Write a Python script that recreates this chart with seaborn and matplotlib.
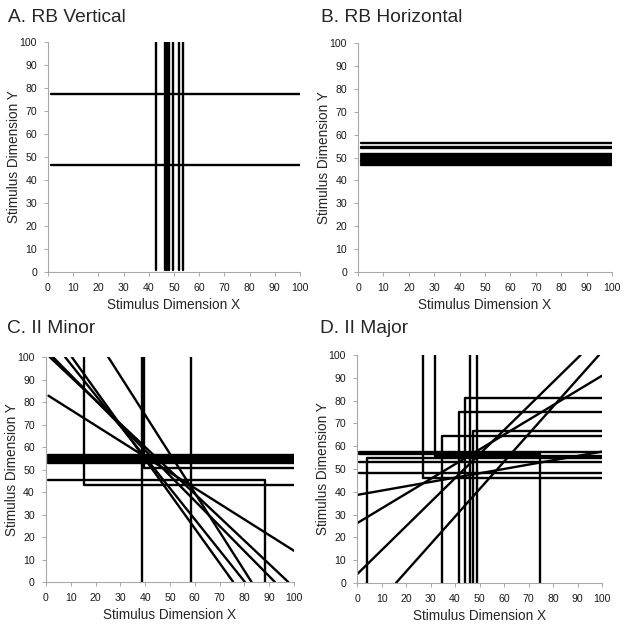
import matplotlib
matplotlib.use("Agg")
import matplotlib.pyplot as plt
import seaborn as sns
import pandas as pd

# Decision bounds, one polyline per bound: x points and y points
# A. RB Vertical
a_bounds_x = [[43.0, 43.0], [46.6, 46.6], [47.4, 47.4], [48.1, 48.1],
              [49.8, 49.8], [51.8, 51.8], [53.4, 53.4],
              [1, 100], [1, 100]]
a_bounds_y = [[1, 100], [1, 100], [1, 100], [1, 100],
              [1, 100], [1, 100], [1, 100],
              [77.5, 77.5], [46.5, 46.5]]

# B. RB Horizontal
b_levels = [56.3, 54.7, 54.1, 51.5, 50.7, 49.9, 49.1, 48.3, 47.5, 46.7]
b_bounds_x = [[1, 100] for _ in b_levels]
b_bounds_y = [[v, v] for v in b_levels]

# C. II Minor
c_bounds_x = [[1, 100], [1, 100], [1, 100], [1, 100], [1, 100],
              [58.3, 58.3], [38.6, 38.6],
              [15.3, 15.3, 100], [39.6, 39.6, 100], [1, 88.3, 88.3],
              [1, 100], [1.5, 97.7], [2.8, 92.3], [7.7, 80.2],
              [10.4, 75.5], [25.1, 82.9]]
c_bounds_y = [[56.4, 56.4], [55.5, 55.5], [54.7, 54.7], [53.9, 53.9], [52.7, 52.7],
              [0, 100], [0, 100],
              [100, 43.3, 43.3], [100, 50.5, 50.5], [45.4, 45.4, 0],
              [82.8, 13.9], [100, 0], [100, 0], [100, 0],
              [100, 0], [100, 0]]

# D. II Major
d_bounds_x = [[1, 100], [1, 100], [1, 100],
              [46.1, 46.1], [49.1, 49.1],
              [27.1, 27.1, 100], [31.7, 31.7, 100], [4.0, 4.0, 100],
              [34.6, 34.6, 100], [41.6, 41.6, 100], [44.1, 44.1, 100],
              [47.2, 47.2, 100], [1, 74.5, 74.5],
              [0, 100], [0, 100], [0, 91.3], [15.9, 98.8]]
d_bounds_y = [[57.3, 57.3], [52.9, 52.9], [48.4, 48.4],
              [0, 100], [0, 100],
              [100, 45.9, 45.9], [100, 55.8, 55.8], [0, 54.7, 54.7],
              [0, 64.5, 64.5], [0, 75.1, 75.1], [0, 81.0, 81.0],
              [0, 66.7, 66.7], [56.5, 56.5, 0],
              [38.6, 57.6], [26.2, 90.9], [3.8, 100], [0, 100]]

titles = ["A. RB Vertical", "B. RB Horizontal", "C. II Minor", "D. II Major"]
ticks = list(range(0, 101, 10))

sns.set_style("white")
plt.rcParams["font.family"] = ["Liberation Sans", "DejaVu Sans"]


def to_frame(xs_list, ys_list):
    rows = []
    for i, (xs, ys) in enumerate(zip(xs_list, ys_list)):
        for x, y in zip(xs, ys):
            rows.append({"bound": i, "x": x, "y": y})
    return pd.DataFrame(rows)


def draw_panel(ax, xs_list, ys_list):
    df = to_frame(xs_list, ys_list)
    sns.lineplot(data=df, x="x", y="y", units="bound", estimator=None,
                 sort=False, color="black", lw=1.7, ax=ax, legend=False)
    ax.set_xlim(0, 100)
    ax.set_ylim(0, 100)
    ax.set_xticks(ticks)
    ax.set_yticks(ticks)
    ax.set_xlabel("Stimulus Dimension X", fontsize=9.8, labelpad=3.5)
    ax.set_ylabel("Stimulus Dimension Y", fontsize=9.8, labelpad=-1)
    for side in ["top", "right"]:
        ax.spines[side].set_visible(False)
    for side in ["left", "bottom"]:
        ax.spines[side].set_color("#a8a8a8")
        ax.spines[side].set_linewidth(0.8)
    ax.tick_params(direction="out", length=3, width=0.7, color="#a8a8a8",
                   labelsize=7.6, labelcolor="#1a1a1a", pad=5)
    ax.tick_params(left=True, bottom=True)


fig = plt.figure(figsize=(6.29, 6.28), dpi=100)
rects = [[0.0763, 0.5669, 0.4006, 0.3662],
         [0.5692, 0.5669, 0.4038, 0.3646],
         [0.0731, 0.0732, 0.3943, 0.3583],
         [0.5676, 0.0717, 0.3895, 0.3631]]
data = [(a_bounds_x, a_bounds_y), (b_bounds_x, b_bounds_y),
        (c_bounds_x, c_bounds_y), (d_bounds_x, d_bounds_y)]
title_pos = [(0.012, 0.9655), (0.511, 0.9655), (0.0106, 0.469), (0.509, 0.469)]

for rect, (xs, ys), title, (tx, ty) in zip(rects, data, titles, title_pos):
    ax = fig.add_axes(rect)
    draw_panel(ax, xs, ys)
    fig.text(tx, ty, title, fontsize=13.8, va="baseline", ha="left")

plt.savefig("out.png", dpi=100)
plt.close()
